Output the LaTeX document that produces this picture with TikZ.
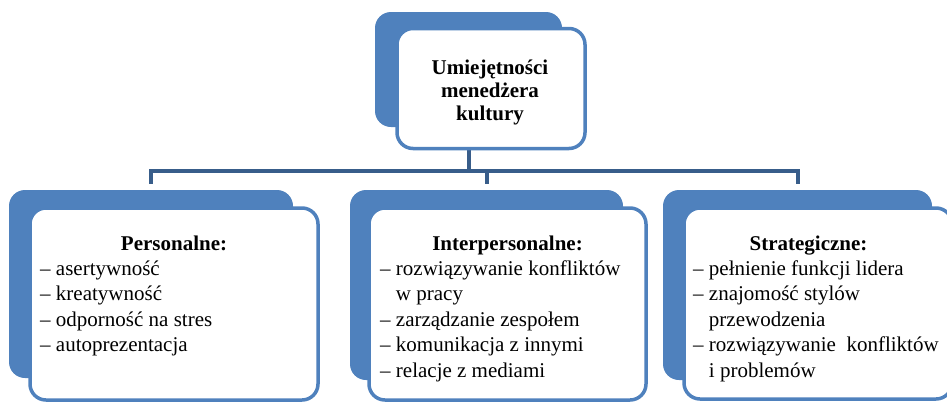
\documentclass[tikz,border=0pt]{standalone}
\usepackage{fontspec}
\setmainfont{Liberation Serif}
\definecolor{boxblue}{RGB}{79,129,189}
\definecolor{linkblue}{RGB}{56,93,138}
\newcommand{\boxfont}{\fontsize{21}{25.6}\selectfont}
\begin{document}
\begin{tikzpicture}[x=1pt,y=-1pt,
        back/.style = {fill=boxblue, draw=none, rounded corners=16pt, inner sep=0pt},
        front/.style = {fill=white, draw=boxblue, line width=3.5pt, rounded corners=16pt, inner sep=0pt},
        link/.style = {draw=linkblue, line width=4pt},
        head/.style = {font=\boxfont\bfseries, anchor=base, inner sep=0pt},
        items/.style = {font=\boxfont, align=left, anchor=base west, inner sep=0pt}]
    \useasboundingbox (0,0) rectangle (947,408);
    % back shapes
    \node[back, minimum width=187pt, minimum height=115pt] (topBack) at (468.5,69.5) {};
    \node[back, minimum width=284pt, minimum height=188pt] (leftBack) at (151,284) {};
    \node[back, minimum width=273pt, minimum height=190pt] (midBack) at (486.5,285) {};
    \node[back, minimum width=269pt, minimum height=190pt] (rightBack) at (797.5,285) {};
    % connectors
    \coordinate (bus) at (468.5,171);
    \draw[link] (topBack.south) -- (bus);
    \draw[link, shorten <=6pt, shorten >=6pt] (leftBack.north) |- (bus) -| (rightBack.north);
    \draw[link, shorten >=6pt] (bus -| midBack.north) -- (midBack.north);
    % front shapes
    \node[front, minimum width=188pt, minimum height=120pt] (topFront) at (491,88.5) {};
    \node[front, minimum width=288pt, minimum height=192pt] (leftFront) at (174,304) {};
    \node[front, minimum width=277pt, minimum height=192pt] (midFront) at (507.5,304) {};
    \node[front, minimum width=268pt, minimum height=191pt] (rightFront) at (818,303.5) {};
    % texts (base = last line)
    \node[font=\fontsize{21}{23}\selectfont\bfseries, align=center, anchor=base, inner sep=0pt] (topText) at (490,120) {Umiejętności\\menedżera\\kultury};
    \node[head] (leftHead) at (174,250) {Personalne:};
    \node[items] (leftList) at (40,351.8) {– asertywność\\– kreatywność\\– odporność na stres\\– autoprezentacja};
    \node[head] (midHead) at (507.5,250) {Interpersonalne:};
    \node[items] (midList) at (380,377.4) {– rozwiązywanie konfliktów\\\phantom{– }w pracy\\– zarządzanie zespołem\\– komunikacja z innymi\\– relacje z mediami};
    \node[head] (rightHead) at (808.5,250) {Strategiczne:};
    \node[items] (rightList) at (693,377.4) {– pełnienie funkcji lidera\\– znajomość stylów\\\phantom{– }przewodzenia\\– rozwiązywanie\ \ konfliktów\\\phantom{– }i problemów};
\end{tikzpicture}
\end{document}
